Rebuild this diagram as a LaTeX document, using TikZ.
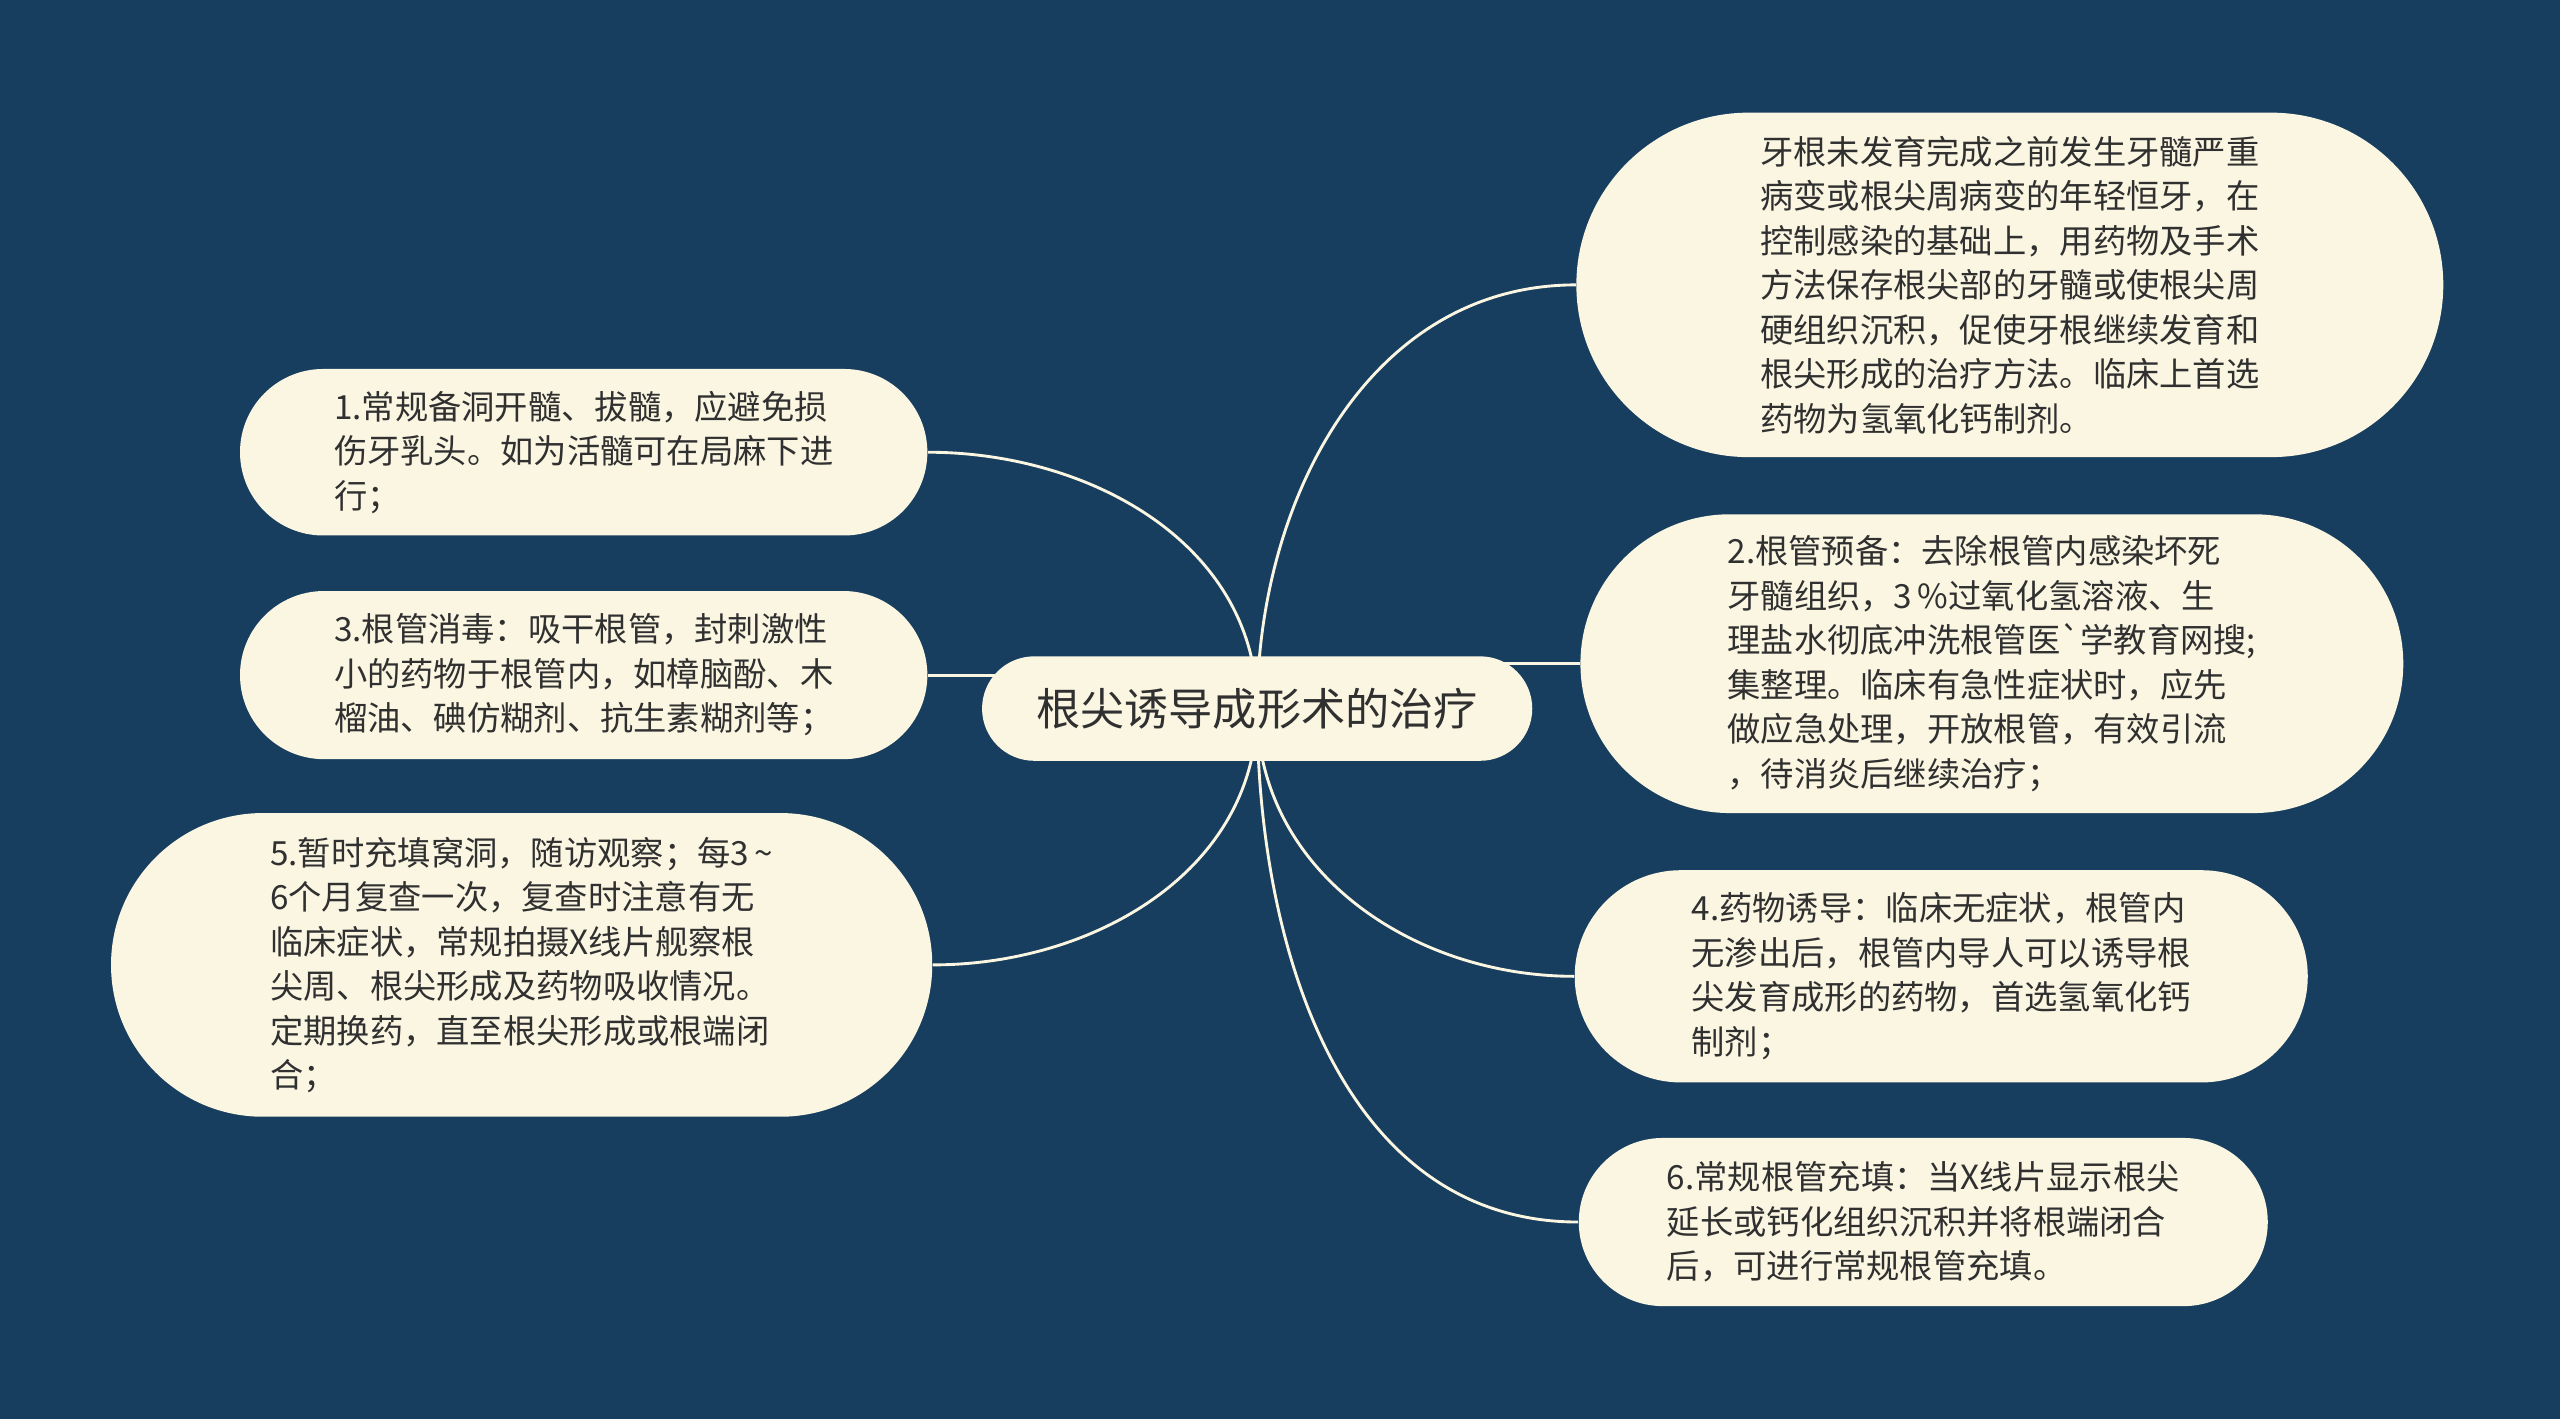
\documentclass[tikz,border=0pt]{standalone}
\usepackage{fontspec}
\setmainfont{Noto Sans CJK SC}
\usetikzlibrary{shapes.misc,backgrounds}
\definecolor{bgblue}{RGB}{23,62,94}
\definecolor{cream}{RGB}{250,246,226}
\definecolor{inkgray}{RGB}{48,48,48}

\begin{document}
\begin{tikzpicture}[
    topic/.style={rounded rectangle, fill=cream, text=inkgray, font=\fontsize{15.4}{18}\selectfont, inner sep=0pt},
    leaf/.style={rounded rectangle, fill=cream, text=inkgray, align=left, font=\fontsize{11.6}{15.5}\selectfont, inner sep=0pt},
    branch/.style={draw=cream, line width=1pt}
]
    \useasboundingbox (0,0) rectangle (31.36,17.38);

    % Central topic
    \node[topic, minimum width=6.74cm, minimum height=1.28cm] (c) at (15.40,8.70) {根尖诱导成形术的治疗};

    % Right side
    \node[leaf, minimum width=10.62cm, minimum height=4.22cm] (r1) at (24.62,13.89) {牙根未发育完成之前发生牙髓严重\\病变或根尖周病变的年轻恒牙，在\\控制感染的基础上，用药物及手术\\方法保存根尖部的牙髓或使根尖周\\硬组织沉积，促使牙根继续发育和\\根尖形成的治疗方法。临床上首选\\药物为氢氧化钙制剂。};
    \node[leaf, minimum width=10.08cm, minimum height=3.66cm] (r2) at (24.40,9.25) {2.根管预备：去除根管内感染坏死\\牙髓组织，3\,\%过氧化氢溶液、生\\理盐水彻底冲洗根管医\textasciigrave 学教育网搜;\\集整理。临床有急性症状时，应先\\做应急处理，开放根管，有效引流\\，待消炎后继续治疗；};
    \node[leaf, minimum width=8.98cm, minimum height=2.60cm] (r3) at (23.78,5.42) {4.药物诱导：临床无症状，根管内\\无渗出后，根管内导人可以诱导根\\尖发育成形的药物，首选氢氧化钙\\制剂；};
    \node[leaf, minimum width=8.44cm, minimum height=2.06cm] (r4) at (23.56,2.41) {6.常规根管充填：当X线片显示根尖\\延长或钙化组织沉积并将根端闭合\\后，可进行常规根管充填。};

    % Left side
    \node[leaf, minimum width=8.42cm, minimum height=2.04cm] (l1) at (7.15,11.84) {1.常规备洞开髓、拔髓，应避免损\\伤牙乳头。如为活髓可在局麻下进\\行；};
    \node[leaf, minimum width=8.42cm, minimum height=2.06cm] (l2) at (7.15,9.11) {3.根管消毒：吸干根管，封刺激性\\小的药物于根管内，如樟脑酚、木\\榴油、碘仿糊剂、抗生素糊剂等；};
    \node[leaf, minimum width=10.06cm, minimum height=3.72cm] (l3) at (6.39,5.56) {5.暂时充填窝洞，随访观察；每3\,\textasciitilde\\6个月复查一次，复查时注意有无\\临床症状，常规拍摄X线片舰察根\\尖周、根尖形成及药物吸收情况。\\定期换药，直至根尖形成或根端闭\\合；};

    % Background and branches
    \begin{scope}[on background layer]
        \fill[bgblue] (0,0) rectangle (31.36,17.38);
        \draw[branch] (c.center) to[out=90,in=180] (r1.west);
        \draw[branch] (c.center |- r2.west) -- (r2.west);
        \draw[branch] (c.center) to[out=-90,in=180] (r3.west);
        \draw[branch] (c.center) to[out=-90,in=180] (r4.west);
        \draw[branch] (l1.east) to[out=0,in=90] (c.center);
        \draw[branch] (l2.east) -- (c.center |- l2.east);
        \draw[branch] (l3.east) to[out=0,in=-90] (c.center);
    \end{scope}

\end{tikzpicture}
\end{document}
